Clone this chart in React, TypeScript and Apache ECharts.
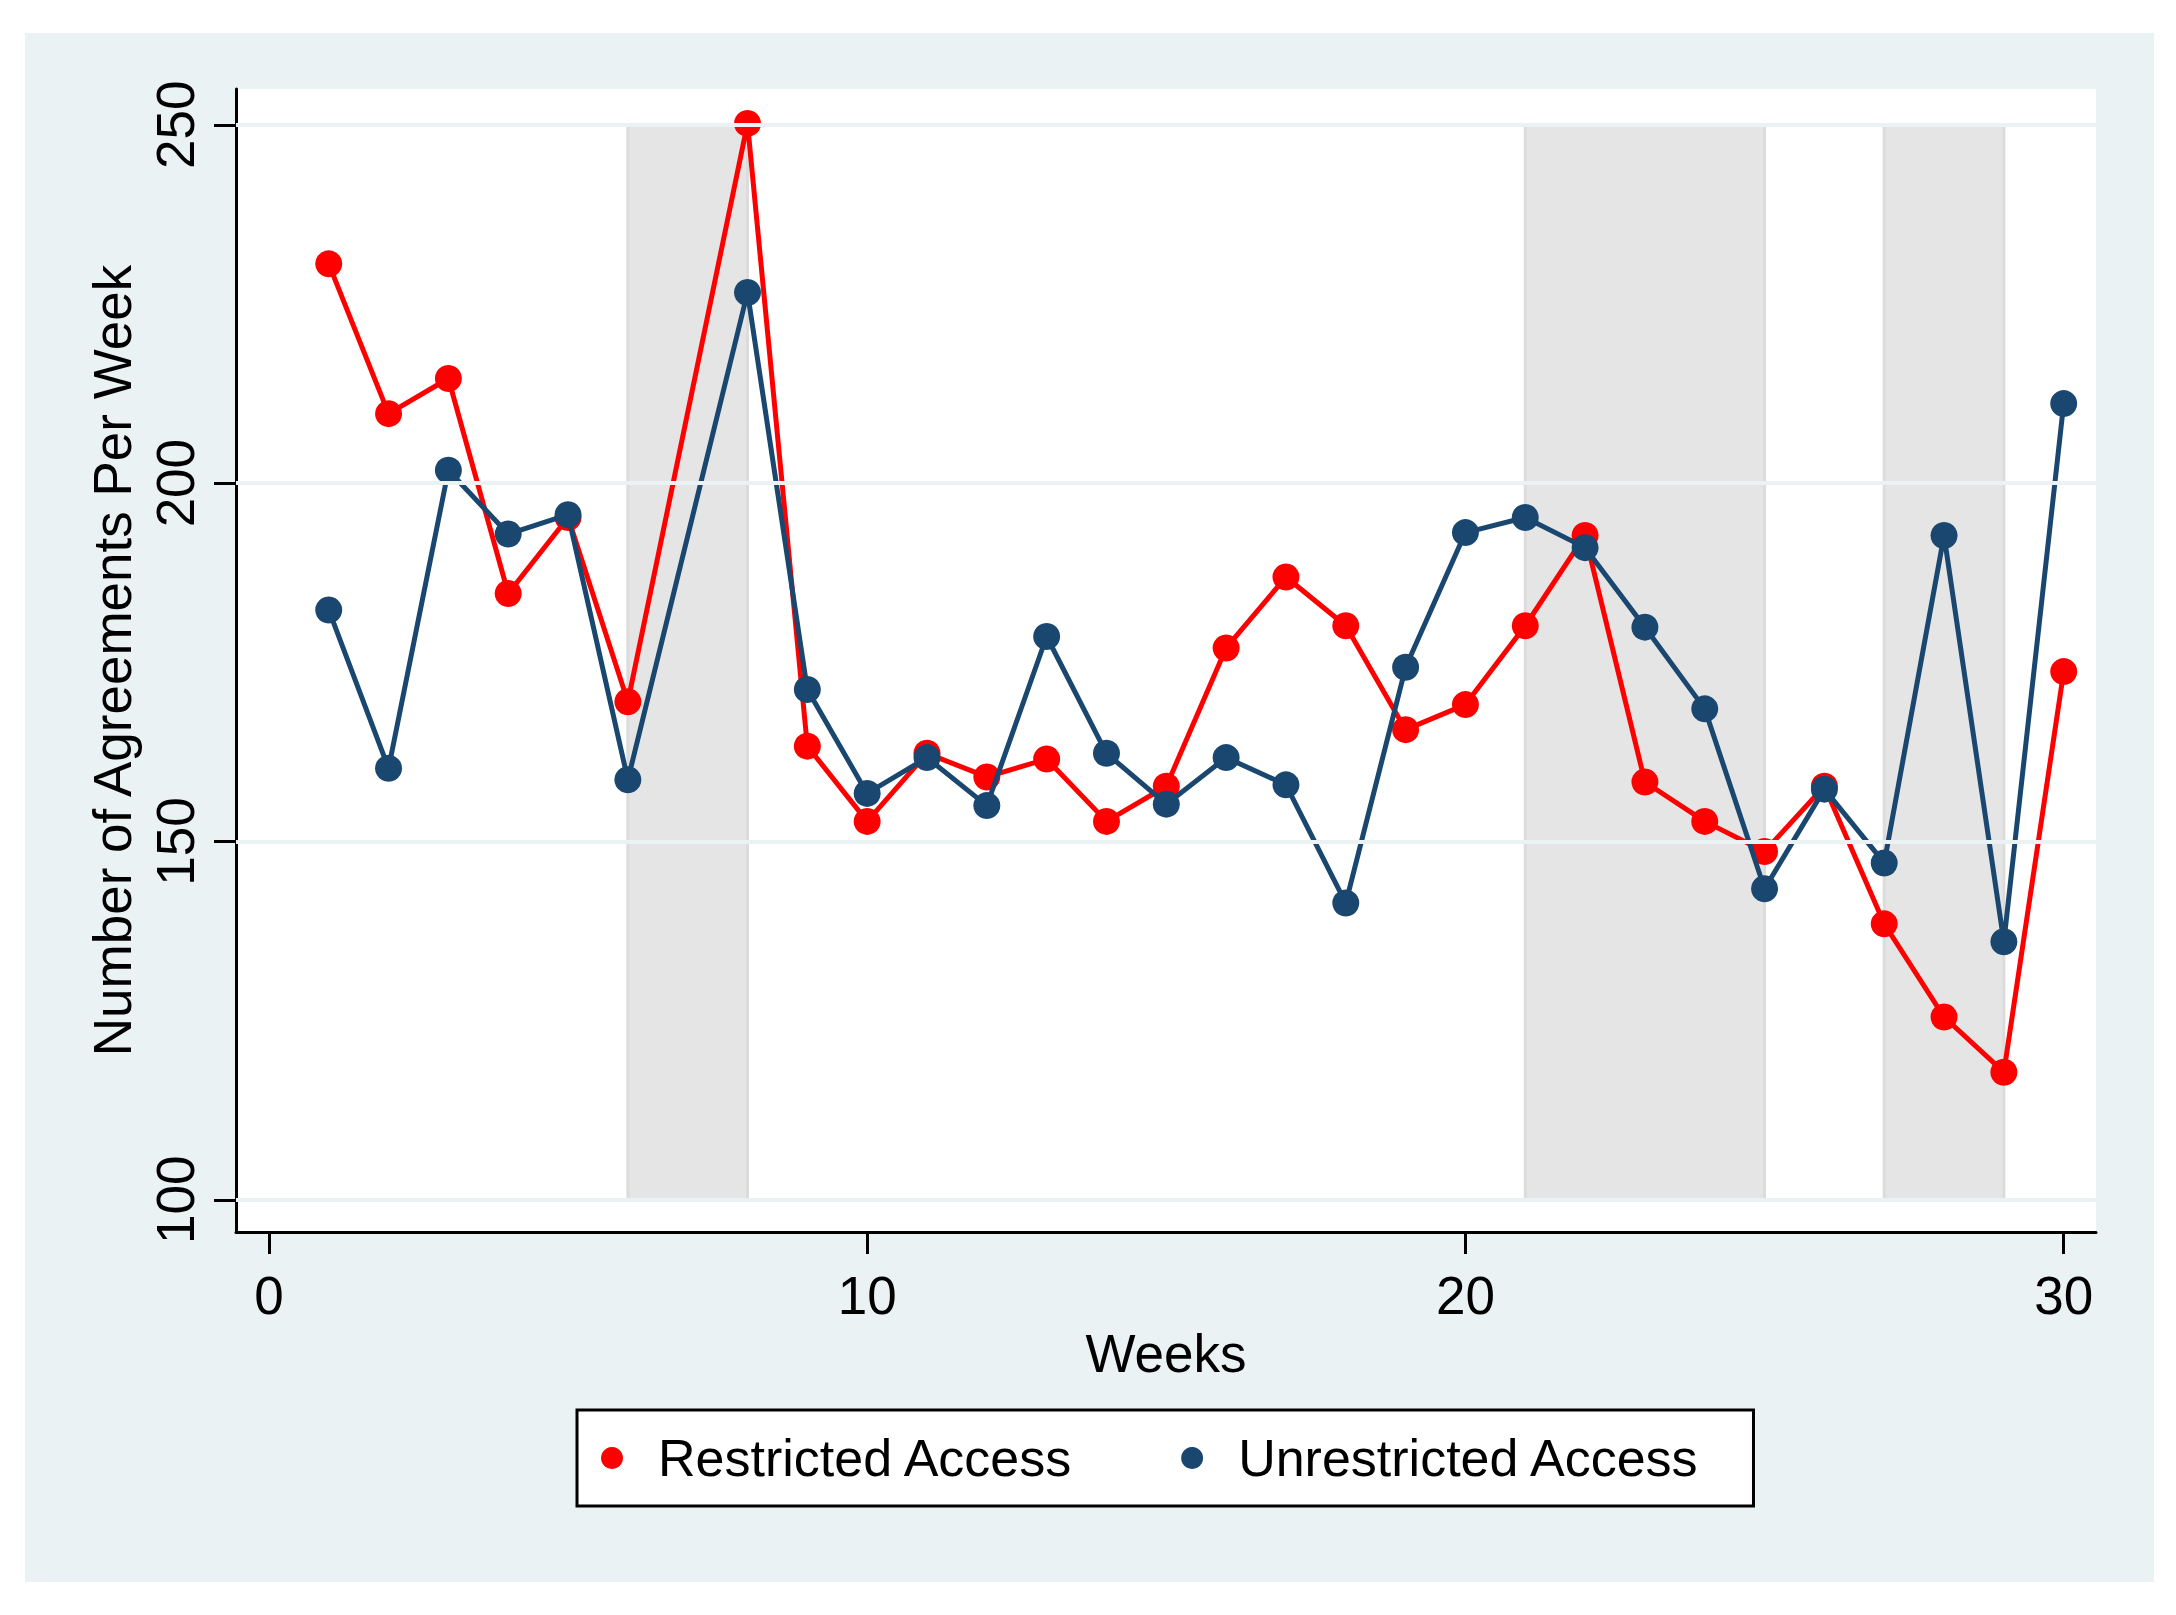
import React, { useEffect, useRef } from "react";
import * as echarts from "echarts";

const weeks = [1, 2, 3, 4, 5, 6, 7, 8, 9, 10, 11, 12, 13, 14, 15, 16, 17, 18, 19, 20, 21, 22, 23, 24, 25, 26, 27, 28, 29, 30];
const restricted = [230.6, 209.7, 214.6, 184.6, 195.2, 169.5, null, 250.2, 163.3, 152.8, 162.3, 159.0, 161.5, 152.8, 157.7, 177.0, 186.9, 180.1, 165.6, 169.1, 180.1, 192.7, 158.3, 152.8, 148.6, 157.7, 138.5, 125.5, 117.8, 173.7];
const unrestricted = [182.3, 160.2, 201.8, 192.9, 195.6, 158.6, null, 226.6, 171.2, 156.7, 161.7, 155.0, 178.6, 162.3, 155.2, 161.7, 157.9, 141.4, 174.3, 193.1, 195.2, 191.0, 179.9, 168.5, 143.4, 157.3, 147.0, 192.7, 136.0, 211.1];
const xTicks = [0, 10, 20, 30];
const yTicks = [100, 150, 200, 250];
const bands = [
  [6, 8],
  [21, 25],
  [27, 29],
];
const seriesNames = ["Restricted Access", "Unrestricted Access"];

const FONT = "Liberation Sans, Arial, sans-serif";

export default function App() {
  const ref = useRef<HTMLDivElement>(null);
  useEffect(() => {
    if (!ref.current) return;
    const chart = echarts.init(ref.current, null, { renderer: "svg" });
    const pairs = (vals: (number | null)[]) => weeks.map((w, i) => [w, vals[i] === null ? "-" : vals[i]]);
    chart.setOption({
      animation: false,
      backgroundColor: "#ffffff",
      graphic: [
        {
          type: "rect",
          shape: { x: 25, y: 33, width: 2129, height: 1549 },
          style: { fill: "#eaf2f3" },
          z: -10,
          silent: true,
        },
      ],
      grid: {
        left: 236,
        top: 89,
        width: 1860,
        height: 1143,
        show: true,
        backgroundColor: "#ffffff",
        borderWidth: 0,
        containLabel: false,
      },
      legend: {
        left: 577,
        top: 1410,
        orient: "horizontal",
        data: seriesNames,
        icon: "circle",
        itemWidth: 22,
        itemHeight: 22,
        itemGap: 107,
        padding: [22, 53, 22, 24],
        borderColor: "#000000",
        borderWidth: 3,
        backgroundColor: "#ffffff",
        borderRadius: 0,
        textStyle: { fontFamily: FONT, fontSize: 52, color: "#000000", padding: [0, 0, 0, 30] },
      },
      xAxis: {
        type: "value",
        min: -0.55,
        max: 30.54,
        name: "Weeks",
        nameLocation: "middle",
        nameGap: 83,
        nameTextStyle: { fontFamily: FONT, fontSize: 53, color: "#000000" },
        axisLine: { show: true, onZero: false, lineStyle: { color: "#000000", width: 3 } },
        axisTick: { show: true, length: 22, lineStyle: { color: "#000000", width: 3 }, customValues: xTicks },
        axisLabel: { fontFamily: FONT, fontSize: 53, color: "#000000", margin: 37, customValues: xTicks },
        splitLine: { show: false },
      },
      yAxis: {
        type: "value",
        min: 95.5,
        max: 255,
        name: "Number of Agreements Per Week",
        nameLocation: "middle",
        nameGap: 97,
        nameTextStyle: { fontFamily: FONT, fontSize: 53, color: "#000000" },
        axisLine: { show: true, onZero: false, lineStyle: { color: "#000000", width: 3 } },
        axisTick: { show: true, length: 22, lineStyle: { color: "#000000", width: 3 }, customValues: yTicks },
        axisLabel: { fontFamily: FONT, fontSize: 53, color: "#000000", margin: 34, rotate: 90, customValues: yTicks },
        splitLine: { show: false },
      },
      series: [
        {
          name: "grid",
          type: "line",
          data: [],
          z: 0,
          silent: true,
          markLine: {
            silent: true,
            symbol: "none",
            label: { show: false },
            lineStyle: { color: "#eaf2f3", width: 4, type: "solid" },
            data: yTicks.map((v) => ({ yAxis: v })),
          },
        },
        {
          name: "bands",
          type: "line",
          data: [],
          z: 1,
          silent: true,
          markArea: {
            silent: true,
            itemStyle: { color: "#e5e5e5", borderColor: "#dcdcdc", borderWidth: 3 },
            label: { show: false },
            data: bands.map((b) => [
              { xAxis: b[0], yAxis: yTicks[0] },
              { xAxis: b[1], yAxis: yTicks[yTicks.length - 1] },
            ]),
          },
        },
        {
          name: seriesNames[0],
          type: "line",
          data: pairs(restricted),
          connectNulls: true,
          z: 3,
          symbol: "circle",
          symbolSize: 27,
          lineStyle: { color: "#ff0000", width: 5 },
          itemStyle: { color: "#ff0000" },
        },
        {
          name: seriesNames[1],
          type: "line",
          data: pairs(unrestricted),
          connectNulls: true,
          z: 4,
          symbol: "circle",
          symbolSize: 27,
          lineStyle: { color: "#1a476f", width: 5 },
          itemStyle: { color: "#1a476f" },
        },
      ],
    });
    return () => chart.dispose();
  }, []);
  return (
    <div
      ref={ref}
      style={{ position: "absolute", left: 0, top: 0, width: 2176, height: 1615 }}
    />
  );
}
